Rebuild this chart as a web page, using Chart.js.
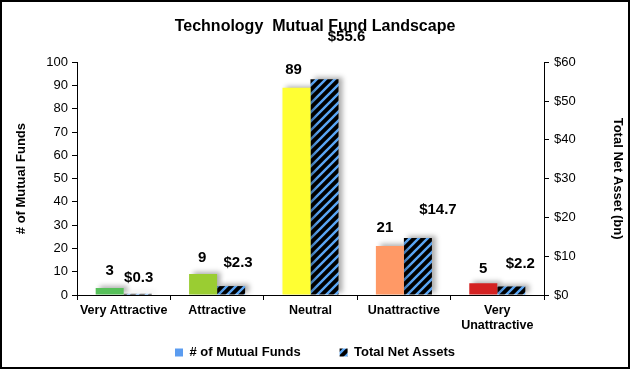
<!DOCTYPE html>
<html>
<head>
<meta charset="utf-8">
<script src="https://cdn.jsdelivr.net/npm/chart.js@4"></script>
<style>
html,body{margin:0;padding:0;background:#fff;}
#wrap{width:630px;height:369px;}
</style>
</head>
<body>
<div id="wrap"><canvas id="c" width="630" height="369"></canvas></div>
<script>
// ---- data ----
const categories = ["Very Attractive", "Attractive", "Neutral", "Unattractive", ["Very", "Unattractive"]];
const fundCounts = [3, 9, 89, 21, 5];
const netAssets = [0.3, 2.3, 55.6, 14.7, 2.2];
const fundTicksMax = 100;
const assetTicksMax = 60;
const legendNames = ["# of Mutual Funds", "Total Net Assets"];

// ---- styling ----
const barColors = ["#57c05a", "#9acd32", "#ffff33", "#ff9966", "#d42222"];
const fundLabelOffsets = [[0, -17], [-1, -16], [-3, -18], [-5, -18], [0, -15]];
const assetLabelOffsets = [[1, -16], [7, -23], [22, -42], [20, -28], [9, -23]];
const FONT = "'Liberation Sans', Arial, sans-serif";

function hatch() {
  const s = 9;
  const c = document.createElement('canvas');
  c.width = s; c.height = s;
  const g = c.getContext('2d');
  g.fillStyle = '#000';
  g.fillRect(0, 0, s, s);
  g.strokeStyle = '#5aa6f5';
  g.lineWidth = 2.4;
  g.beginPath();
  g.moveTo(-1, s + 1); g.lineTo(s + 1, -1);
  g.moveTo(-1, 1); g.lineTo(1, -1);
  g.moveTo(s - 1, s + 1); g.lineTo(s + 1, s - 1);
  g.stroke();
  return document.getElementById('c').getContext('2d').createPattern(c, 'repeat');
}
const hatchPattern = hatch();

const shadowPlugin = {
  id: 'shadow',
  beforeDatasetDraw(chart) {
    const ctx = chart.ctx;
    ctx.save();
    ctx.shadowColor = 'rgba(0,0,0,0.32)';
    ctx.shadowBlur = 5;
    ctx.shadowOffsetX = 4;
    ctx.shadowOffsetY = -2;
  },
  afterDatasetDraw(chart) {
    chart.ctx.restore();
  }
};

const labelPlugin = {
  id: 'vlabels',
  afterDatasetsDraw(chart) {
    const ctx = chart.ctx;
    ctx.save();
    ctx.font = "bold 15px " + FONT;
    ctx.fillStyle = '#000';
    ctx.textAlign = 'center';
    ctx.textBaseline = 'middle';
    chart.data.datasets.forEach((ds, di) => {
      const meta = chart.getDatasetMeta(di);
      const offs = di === 0 ? fundLabelOffsets : assetLabelOffsets;
      meta.data.forEach((bar, i) => {
        const v = ds.data[i];
        const txt = di === 0 ? String(v) : '$' + v.toFixed(1);
        ctx.fillText(txt, bar.x + offs[i][0], bar.y + offs[i][1]);
      });
    });
    ctx.restore();
  }
};

const framePlugin = {
  id: 'frame',
  afterDraw(chart) {
    const ctx = chart.ctx;
    ctx.save();
    ctx.strokeStyle = '#000';
    ctx.lineWidth = 2;
    ctx.strokeRect(1, 1, chart.width - 2, chart.height - 2);
    ctx.restore();
  }
};

Chart.defaults.font.family = FONT;
Chart.defaults.color = '#000';

new Chart(document.getElementById('c'), {
  type: 'bar',
  data: {
    labels: categories,
    datasets: [
      {
        label: legendNames[0],
        data: fundCounts,
        backgroundColor: barColors,
        yAxisID: 'y',
        categoryPercentage: 0.6,
        barPercentage: 1.0
      },
      {
        label: legendNames[1],
        data: netAssets,
        backgroundColor: hatchPattern,
        yAxisID: 'y1',
        categoryPercentage: 0.6,
        barPercentage: 1.0
      }
    ]
  },
  options: {
    responsive: false,
    animation: false,
    layout: { padding: 0 },
    plugins: {
      title: {
        display: true,
        text: 'Technology  Mutual Fund Landscape',
        font: { size: 16, weight: 'bold' },
        color: '#000',
        padding: { top: 17, bottom: 26 }
      },
      legend: {
        position: 'bottom',
        labels: {
          boxWidth: 8,
          boxHeight: 8,
          padding: 10,
          font: { size: 13, weight: 'bold' },
          color: '#000',
          generateLabels() {
            return [
              { text: legendNames[0] + '        ', fillStyle: '#5b9cf0', strokeStyle: '#5b9cf0', lineWidth: 0, datasetIndex: 0 },
              { text: legendNames[1], fillStyle: hatchPattern, strokeStyle: '#000', lineWidth: 0, datasetIndex: 1 }
            ];
          }
        }
      },
      tooltip: { enabled: false }
    },
    scales: {
      x: {
        grid: { display: true, drawOnChartArea: false, tickLength: 5, color: '#000', offset: true },
        border: { display: true, color: '#000', width: 1 },
        ticks: { font: { size: 12.5, weight: 'bold' }, color: '#000', maxRotation: 0, autoSkip: false, padding: 3 },
        afterFit(s) { s.height = 41; }
      },
      y: {
        position: 'left',
        min: 0, max: fundTicksMax,
        ticks: { stepSize: 10, font: { size: 13 }, color: '#000', padding: 4 },
        grid: { display: true, drawOnChartArea: false, tickLength: 5, color: '#000' },
        border: { display: true, color: '#000', width: 1 },
        title: { display: true, text: '# of Mutual Funds', font: { size: 13, weight: 'bold' }, color: '#000', padding: { top: 14, bottom: 0 } },
        afterFit(s) { s.width = 77; }
      },
      y1: {
        position: 'right',
        min: 0, max: assetTicksMax,
        ticks: { stepSize: 10, font: { size: 13 }, color: '#000', padding: 5, callback: v => '$' + v },
        grid: { display: true, drawOnChartArea: false, tickLength: 5, color: '#000' },
        border: { display: true, color: '#000', width: 1 },
        title: { display: true, text: 'Total Net Asset (bn)', font: { size: 13, weight: 'bold' }, color: '#000', padding: { top: 5, bottom: 0 } },
        afterFit(s) { s.width = 86; }
      }
    }
  },
  plugins: [shadowPlugin, labelPlugin, framePlugin]
});
</script>
</body>
</html>
